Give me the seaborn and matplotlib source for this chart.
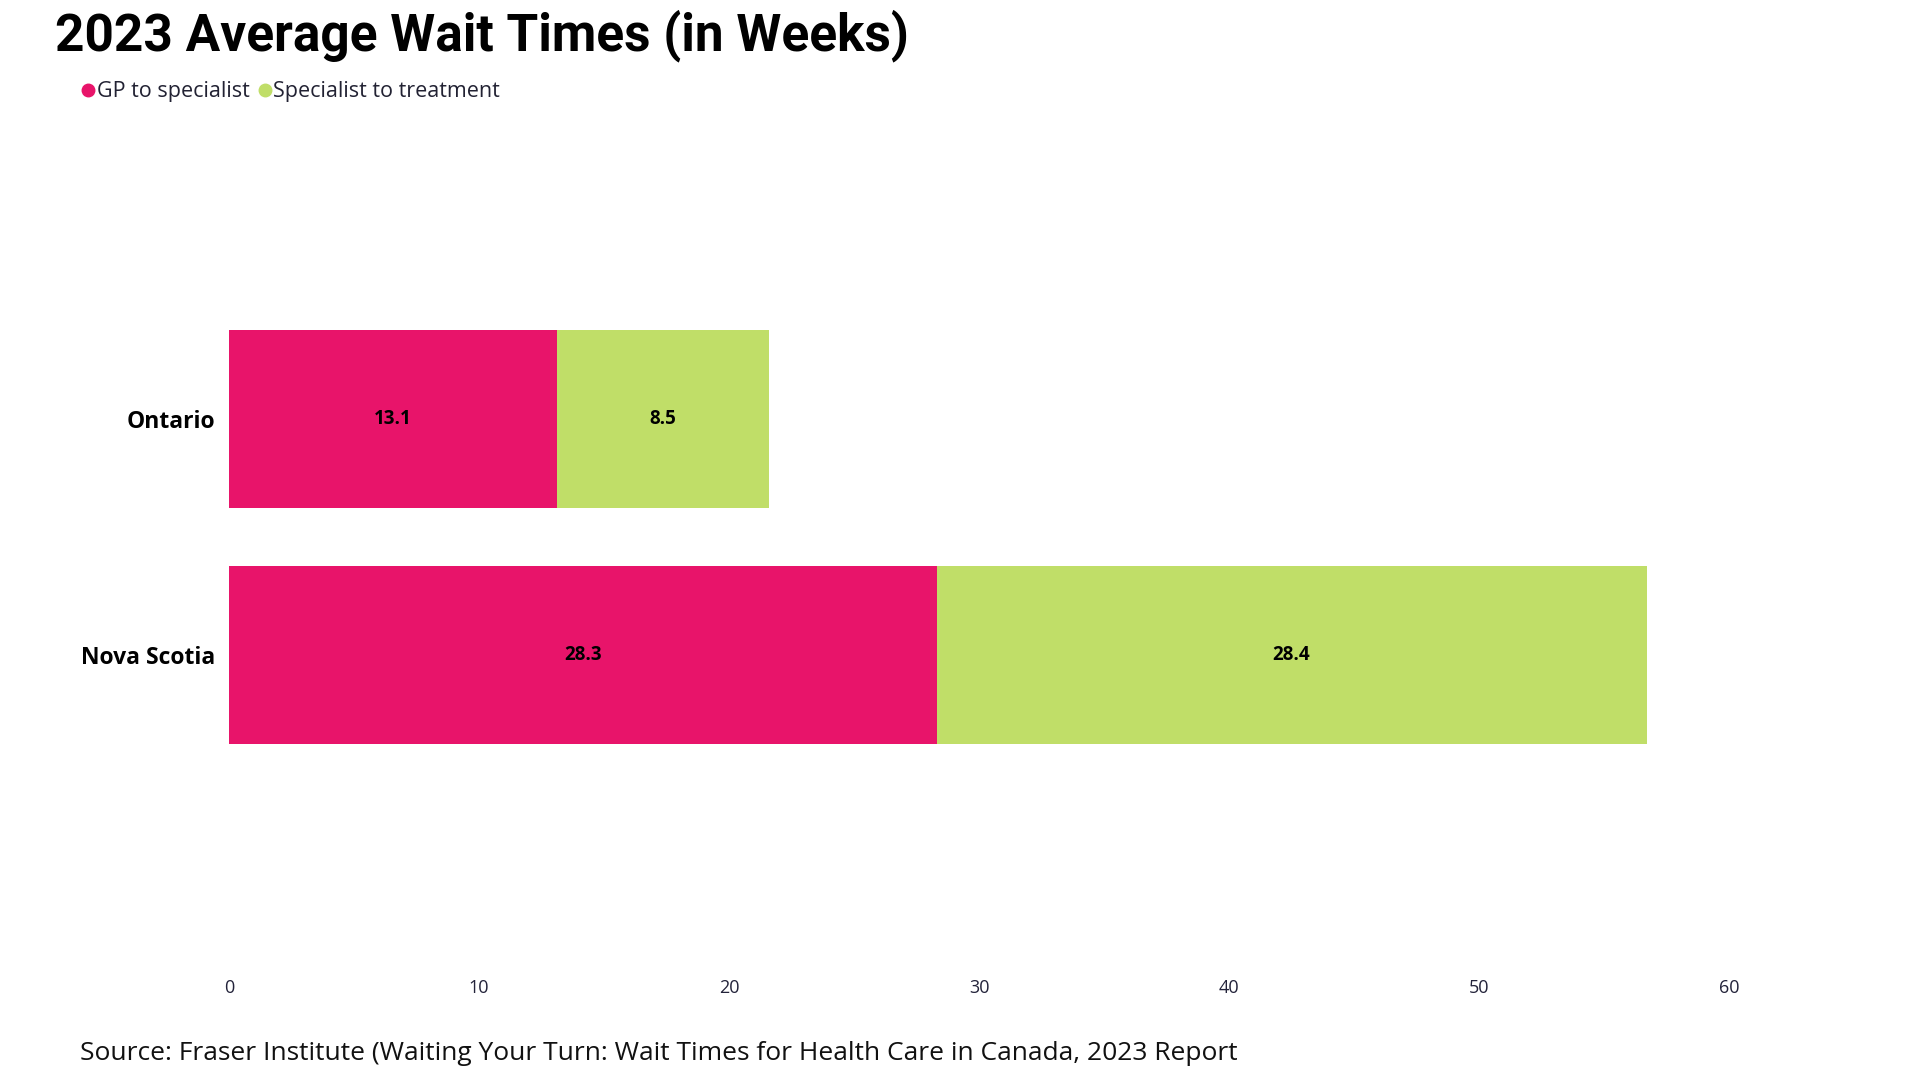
import matplotlib
matplotlib.use("Agg")
import matplotlib.pyplot as plt
from matplotlib.lines import Line2D
import pandas as pd
import seaborn as sns

# ---------------------------------------------------------------------------
# Data
# ---------------------------------------------------------------------------
provinces = ["Ontario", "Nova Scotia"]
gp_to_specialist = [13.1, 28.3]
specialist_to_treatment = [8.5, 28.4]
x_ticks = [0, 10, 20, 30, 40, 50, 60]

TITLE = "2023 Average Wait Times (in Weeks)"
SOURCE = ("Source: Fraser Institute (Waiting Your Turn: Wait Times for Health "
          "Care in Canada, 2023 Report")
SERIES = ["GP to specialist", "Specialist to treatment"]

PINK = "#E8146A"
GREEN = "#C0DE68"

df = pd.DataFrame({
    "province": provinces,
    "gp": gp_to_specialist,
    "spec": specialist_to_treatment,
})
df["total"] = df["gp"] + df["spec"]

# ---------------------------------------------------------------------------
# Plot
# ---------------------------------------------------------------------------
sns.set_theme(style="white")
plt.rcParams["font.family"] = ["Open Sans", "DejaVu Sans"]

fig = plt.figure(figsize=(19.2, 10.8), dpi=100)
ax = fig.add_axes([229 / 1920, 1 - 960 / 1080, 1500 / 1920, 830 / 1080])

# stacked bars: full total in green, GP part drawn over it in pink
sns.barplot(data=df, x="total", y="province", orient="h", color=GREEN,
            width=0.755, saturation=1, linewidth=0, ax=ax)
sns.barplot(data=df, x="gp", y="province", orient="h", color=PINK,
            width=0.755, saturation=1, linewidth=0, ax=ax)

pink_bars = ax.containers[1]
ax.bar_label(pink_bars, labels=[f"{v:.1f}" for v in df["gp"]],
             label_type="center", fontsize=13.5, fontweight="bold", color="black")
for i, row in df.iterrows():
    ax.text(row["gp"] + row["spec"] / 2, i, f"{row['spec']:.1f}",
            ha="center", va="center", fontsize=13.5, fontweight="bold", color="black")

ax.set_xlim(0, 60)
ax.set_ylim(2.292, -1.225)
ax.set_xticks(x_ticks)
ax.set_xticklabels([str(t) for t in x_ticks], fontsize=13, color="#23233a")
ax.tick_params(axis="x", length=0, pad=14)
ax.tick_params(axis="y", length=0, pad=10)
for lbl in ax.get_yticklabels():
    lbl.set_fontsize(16.5)
    lbl.set_fontweight("bold")
    lbl.set_color("black")
ax.set_xlabel("")
ax.set_ylabel("")
sns.despine(ax=ax, left=True, bottom=True)
ax.grid(False)

# title, legend, source
fig.text(55 / 1920, 1 - 9 / 1080, TITLE, ha="left", va="top",
         fontsize=37, fontweight="bold", family=["Roboto", "DejaVu Sans"],
         color="black")

handles = [
    Line2D([], [], marker="o", linestyle="", markersize=9, color=PINK),
    Line2D([], [], marker="o", linestyle="", markersize=9, color=GREEN),
]
fig.legend(handles, SERIES, loc="center left",
           bbox_to_anchor=(71 / 1920, 1 - 92 / 1080), ncol=2, frameon=False,
           fontsize=15.5, handlelength=0.6, handletextpad=0.1,
           columnspacing=0.4, borderpad=0, labelcolor="#222233")

fig.text(80 / 1920, 1 - 1054 / 1080, SOURCE, ha="left", va="center",
         fontsize=19, color="#111111")

fig.savefig("out.png", dpi=100)
